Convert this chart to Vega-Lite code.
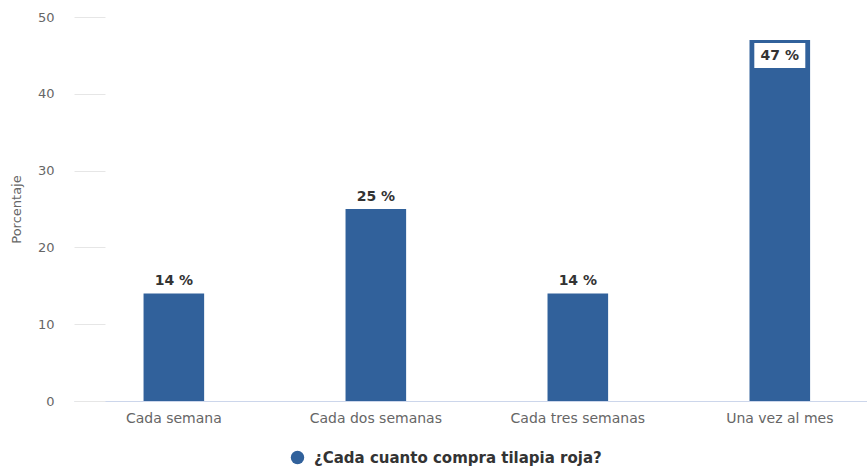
{
  "$schema": "https://vega.github.io/schema/vega-lite/v6.json",
  "autosize": "none",
  "padding": {"left": 74, "top": 17, "right": 0, "bottom": 65},
  "width": 793,
  "height": 384,
  "background": "white",
  "config": {
    "font": "DejaVu Sans",
    "view": {"stroke": null}
  },
  "data": {
    "values": [
      {"frecuencia": "Cada semana", "valor": 14, "serie": "¿Cada cuanto compra tilapia roja?"},
      {"frecuencia": "Cada dos semanas", "valor": 25, "serie": "¿Cada cuanto compra tilapia roja?"},
      {"frecuencia": "Cada tres semanas", "valor": 14, "serie": "¿Cada cuanto compra tilapia roja?"},
      {"frecuencia": "Una vez al mes", "valor": 47, "serie": "¿Cada cuanto compra tilapia roja?"}
    ]
  },
  "encoding": {
    "x": {
      "field": "frecuencia",
      "type": "nominal",
      "sort": null,
      "scale": {"paddingInner": 0.7, "paddingOuter": 0.313, "align": 0.55},
      "axis": {
        "title": null,
        "labelAngle": 0,
        "labelFont": "DejaVu Sans",
        "labelFontSize": 14,
        "labelColor": "#666666",
        "labelPadding": 10,
        "ticks": false,
        "domainColor": "#ccd6eb",
        "domainWidth": 1,
        "grid": false
      }
    },
    "y": {
      "field": "valor",
      "type": "quantitative",
      "scale": {"domain": [0, 50], "nice": false},
      "axis": {
        "title": "Porcentaje",
        "titleFont": "DejaVu Sans",
        "titleFontSize": 13,
        "titleFontWeight": "normal",
        "titleColor": "#666666",
        "titlePadding": 14,
        "values": [0, 10, 20, 30, 40, 50],
        "labelFont": "DejaVu Sans",
        "labelFontSize": 13,
        "labelColor": "#666666",
        "labelPadding": 51,
        "domain": false,
        "grid": false,
        "ticks": true,
        "tickSize": -31,
        "tickColor": "#e6e6e6",
        "tickWidth": 1
      }
    }
  },
  "layer": [
    {
      "mark": {"type": "bar", "clip": true},
      "encoding": {
        "color": {
          "field": "serie",
          "type": "nominal",
          "scale": {"range": ["#31619b"]},
          "legend": {
            "title": null,
            "orient": "none",
            "legendX": 216,
            "legendY": 433,
            "direction": "horizontal",
            "symbolType": "circle",
            "symbolSize": 180,
            "symbolStrokeWidth": 0,
            "labelFont": "DejaVu Sans",
            "labelFontSize": 15,
            "labelFontWeight": "bold",
            "labelColor": "#333333",
            "labelLimit": 500,
            "labelOffset": 9
          }
        }
      }
    },
    {
      "transform": [{"filter": "datum.valor < 45"}],
      "mark": {
        "type": "text",
        "baseline": "bottom",
        "dy": -5,
        "font": "DejaVu Sans",
        "fontSize": 14,
        "fontWeight": "bold",
        "color": "#333333",
        "text": {"expr": "datum.valor + ' %'"}
      }
    },
    {
      "transform": [{"filter": "datum.valor >= 45"}],
      "mark": {
        "type": "point",
        "shape": "M-1,-0.49H1V0.49H-1Z",
        "size": 2601,
        "filled": true,
        "color": "white",
        "opacity": 1,
        "yOffset": 15.5
      }
    },
    {
      "transform": [{"filter": "datum.valor >= 45"}],
      "mark": {
        "type": "text",
        "baseline": "middle",
        "yOffset": 16,
        "font": "DejaVu Sans",
        "fontSize": 14,
        "fontWeight": "bold",
        "color": "#333333",
        "text": {"expr": "datum.valor + ' %'"}
      }
    }
  ]
}
